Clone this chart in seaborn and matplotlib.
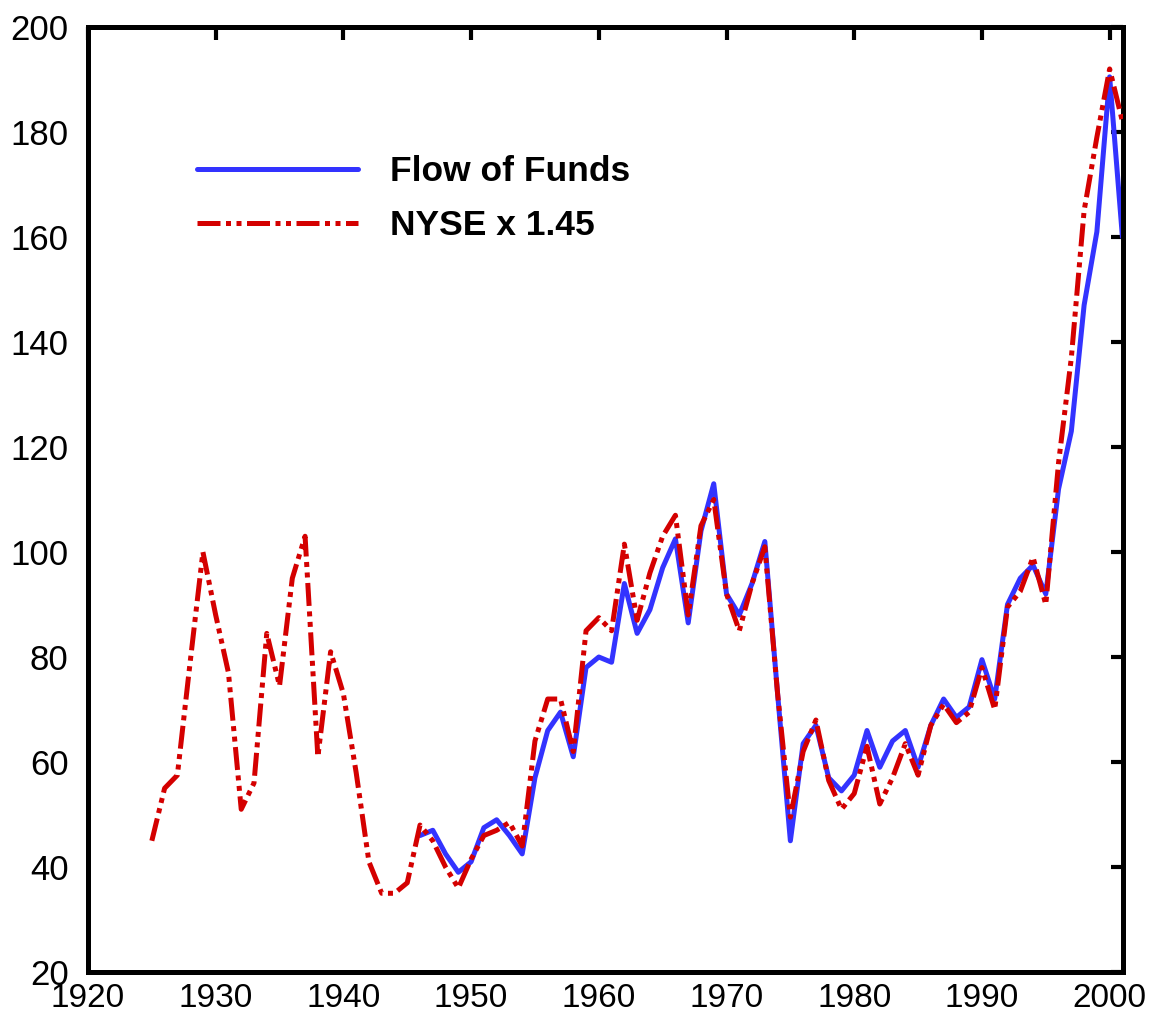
import matplotlib
matplotlib.use("Agg")
import matplotlib.pyplot as plt
import seaborn as sns
import numpy as np

nyse_years = list(range(1925, 2002))
nyse_values = [45, 55, 57.5, 79, 100, 88, 77, 51, 56, 84.5,
               74.5, 95, 103, 61, 81, 73, 58, 41, 35, 35,
               37, 48, 45, 40, 36, 41.5, 46, 47, 48.5, 44,
               64, 72, 72, 62, 85, 87.5, 85, 101.5, 87, 96,
               103, 107, 88, 105, 110, 92, 85, 94, 101, 73,
               49.5, 62, 68, 56.5, 51, 54, 63, 52, 57, 63.5,
               57.5, 67, 71, 67.5, 69.5, 78, 70, 89.5, 92.5, 99,
               90, 117, 137, 165, 179, 192, 182]

fof_years = list(range(1946, 2002))
fof_values = [46, 47, 42.5, 39, 41, 47.5, 49, 46, 42.5, 57,
              66, 69.5, 61, 78, 80, 79, 94, 84.5, 89, 97,
              102.5, 86.5, 104, 113, 92, 88, 94, 102, 73, 45,
              63.5, 67, 57, 54.5, 57.5, 66, 59, 64, 66, 59,
              67, 72, 68.5, 70.5, 79.5, 72, 90, 95, 97.5, 92,
              112, 123, 147, 161, 190.5, 160]

labels = ["Flow of Funds", "NYSE x 1.45"]
x_ticks = list(range(1920, 2001, 10))
y_ticks = list(range(20, 201, 20))

sns.set_theme(style="white")
plt.rcParams['font.family'] = ['Liberation Sans', 'DejaVu Sans']
plt.rcParams['text.color'] = 'black'

fig = plt.figure(figsize=(11.56, 10.17), dpi=100)
ax = fig.add_axes([0.0761, 0.0442, 0.9715 - 0.0761, 0.9735 - 0.0442])

sns.lineplot(x=fof_years, y=fof_values, ax=ax, color="#3333ff", lw=3.6,
             label=labels[0], zorder=2)
sns.lineplot(x=nyse_years, y=nyse_values, ax=ax, color="#d40000", lw=3.6,
             linestyle=(0, (4.6, 1.1, 1.0, 1.1, 1.0, 1.1)), label=labels[1],
             zorder=3)

ax.set_xlim(1920, 2001.05)
ax.set_ylim(20, 200)
ax.set_xticks(x_ticks)
ax.set_yticks(y_ticks)
ax.set_xlabel("")
ax.set_ylabel("")

for s in ax.spines.values():
    s.set_visible(True)
    s.set_linewidth(3.6)
    s.set_color("black")

ax.tick_params(axis="both", which="major", direction="in", length=9, width=3,
               top=True, right=True, colors="black")
ax.tick_params(axis="x", pad=8, labelsize=24)
ax.tick_params(axis="y", pad=14, labelsize=25)
ax.grid(False)

leg = ax.legend(loc="upper left", bbox_to_anchor=(0.088, 0.883), frameon=False,
                prop={"weight": "bold", "size": 25.5}, handlelength=4.55,
                handletextpad=0.92, labelspacing=0.6, borderpad=0)
for t in leg.get_texts():
    t.set_color("black")

fig.savefig("out.png", dpi=100, facecolor="white")
